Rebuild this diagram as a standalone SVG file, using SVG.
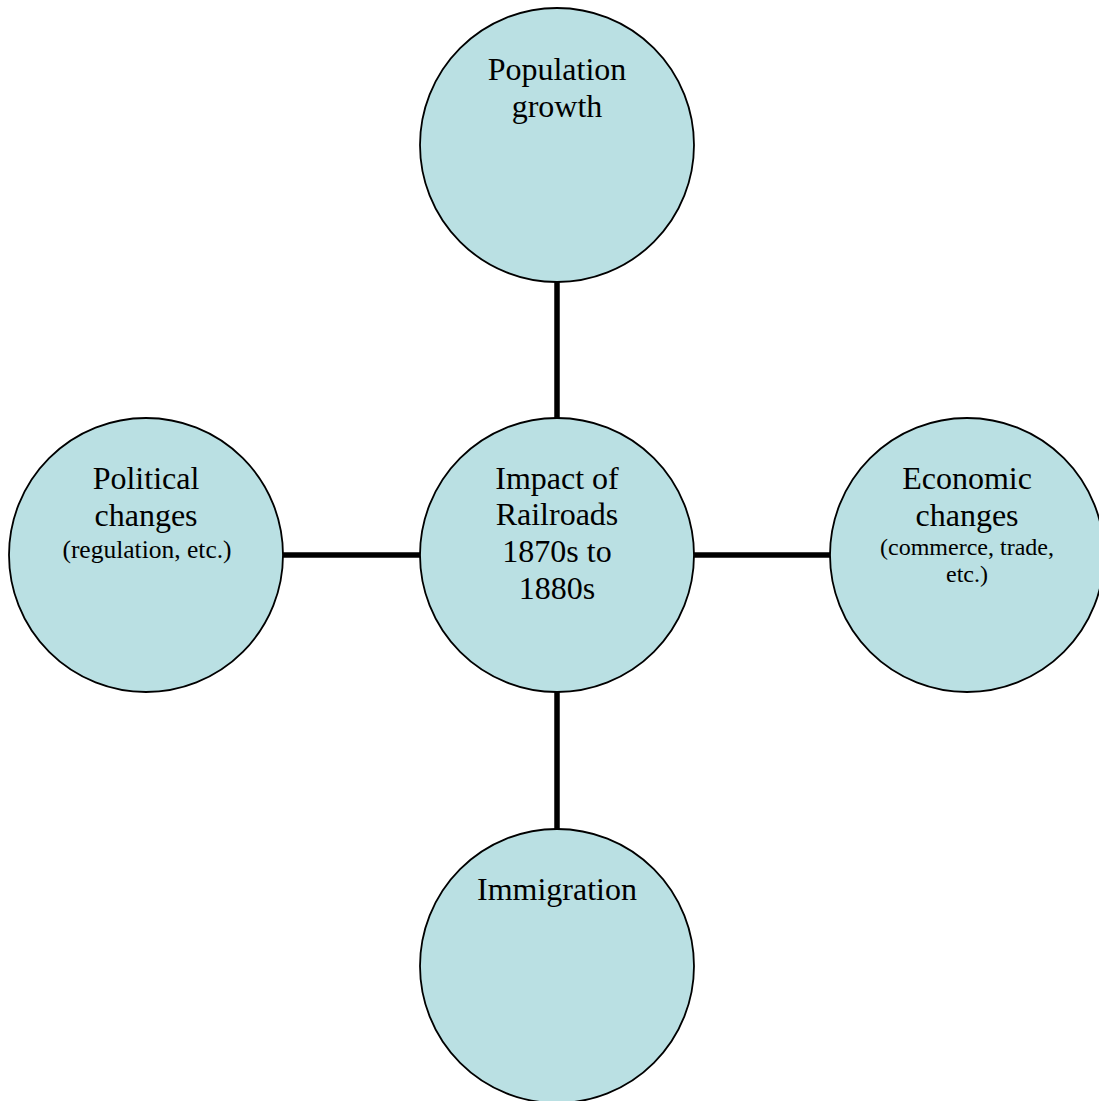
<svg xmlns="http://www.w3.org/2000/svg" width="1099" height="1101" viewBox="0 0 1099 1101">
<style>
.node{fill:#BAE0E3;stroke:#000;stroke-width:1.8}
.t{font-family:"Liberation Serif","Times New Roman",serif;font-size:32px;fill:#000;text-anchor:middle}
.s{font-family:"Liberation Serif","Times New Roman",serif;font-size:24px;fill:#000;text-anchor:middle}
.c{stroke:#000;stroke-width:5.5;fill:none}
</style>
<rect width="1099" height="1101" fill="#fff"/>
<g id="connectors">
<line class="c" x1="557" y1="282" x2="557" y2="419"/>
<line class="c" x1="557" y1="691" x2="557" y2="829"/>
<line class="c" x1="283" y1="555" x2="421" y2="555"/>
<line class="c" x1="693" y1="555" x2="831" y2="555"/>
</g>
<g id="population">
<circle class="node" cx="557" cy="145" r="137"/>
<text class="t" x="557" y="80">Population</text>
<text class="t" x="557" y="117">growth</text>
</g>
<g id="center">
<circle class="node" cx="557" cy="555" r="137"/>
<text class="t" x="557" y="489">Impact of</text>
<text class="t" x="557" y="525">Railroads</text>
<text class="t" x="557" y="562">1870s to</text>
<text class="t" x="557" y="599">1880s</text>
</g>
<g id="political">
<circle class="node" cx="146" cy="555" r="137"/>
<text class="t" x="146" y="489">Political</text>
<text class="t" x="146" y="526">changes</text>
<text class="s" x="147" y="558" style="font-size:25.5px">(regulation, etc.)</text>
</g>
<g id="economic">
<circle class="node" cx="967" cy="555" r="137"/>
<text class="t" x="967" y="489">Economic</text>
<text class="t" x="967" y="526">changes</text>
<text class="s" x="967" y="555">(commerce, trade,</text>
<text class="s" x="967" y="582">etc.)</text>
</g>
<g id="immigration">
<circle class="node" cx="557" cy="966" r="137"/>
<text class="t" x="557" y="900">Immigration</text>
</g>
</svg>
